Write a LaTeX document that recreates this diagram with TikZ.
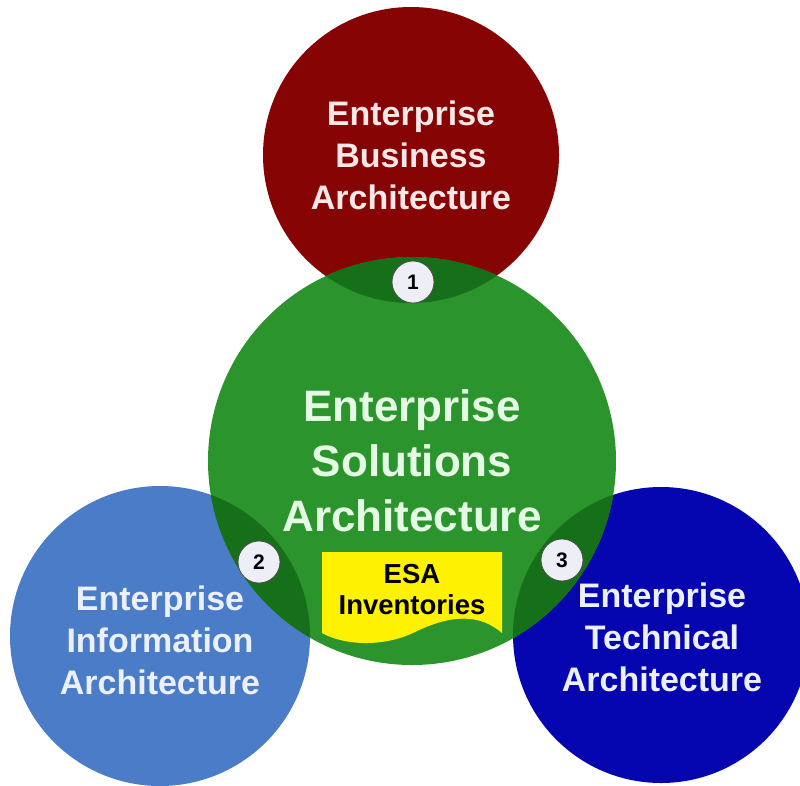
\documentclass[tikz,border=0pt]{standalone}
\usepackage{fontspec}
\setmainfont{Liberation Sans}
\definecolor{cred}{RGB}{135,4,4}
\definecolor{cgreen}{RGB}{44,148,44}
\definecolor{cdkgreen}{RGB}{22,112,26}
\definecolor{clblue}{RGB}{74,124,200}
\definecolor{cdblue}{RGB}{6,6,176}
\definecolor{cnum}{RGB}{238,238,246}
\definecolor{ctxtred}{RGB}{250,232,232}
\definecolor{ctxtgreen}{RGB}{228,250,228}
\definecolor{ctxtblue}{RGB}{236,240,252}
\begin{document}
\begin{tikzpicture}[x=1pt,y=-1pt,
  title/.style={align=center,inner sep=0pt,font=\bfseries\fontsize{34}{42}\selectfont},
  numdot/.style={circle,fill=cnum,draw=black!70,line width=0.8pt,minimum size=42pt,inner sep=0pt,font=\bfseries\fontsize{21}{21}\selectfont}]
\useasboundingbox (0,0) rectangle (800,785);
\fill[white] (0,0) rectangle (800,785);
% circles
\fill[cred] (411,155) circle[radius=148];
\fill[clblue] (160,636) circle[radius=150];
\fill[cdblue] (661,635) circle[radius=148];
\fill[cgreen] (412,461) circle[radius=204];
% overlaps
\begin{scope}
  \clip (412,461) circle[radius=204];
  \fill[cdkgreen] (411,155) circle[radius=148];
  \fill[cdkgreen] (160,636) circle[radius=150];
  \fill[cdkgreen] (661,635) circle[radius=148];
\end{scope}
% ESA document
\fill[yellow] (322,552) -- (502,552) -- (502,633)
  .. controls (480,614) and (452,614) .. (415,632)
  .. controls (385,647) and (345,646) .. (322,633) -- cycle;
\node[inner sep=0pt,align=center,font=\bfseries\fontsize{27.5}{31}\selectfont] (esa) at (412,590) {ESA\\Inventories};
% titles
\node[title,text=ctxtred] (eba) at (411,155) {Enterprise\\Business\\Architecture};
\node[title,text=ctxtgreen,font=\bfseries\fontsize{44}{55}\selectfont] (esol) at (412,461) {Enterprise\\Solutions\\Architecture};
\node[title,text=ctxtblue] (eia) at (160,640) {Enterprise\\Information\\Architecture};
\node[title,text=ctxtblue] (eta) at (662,637) {Enterprise\\Technical\\Architecture};
% numbers
\node[numdot] (n1) at (413,282) {1};
\node[numdot] (n2) at (259,562) {2};
\node[numdot] (n3) at (562,560) {3};
\end{tikzpicture}
\end{document}
